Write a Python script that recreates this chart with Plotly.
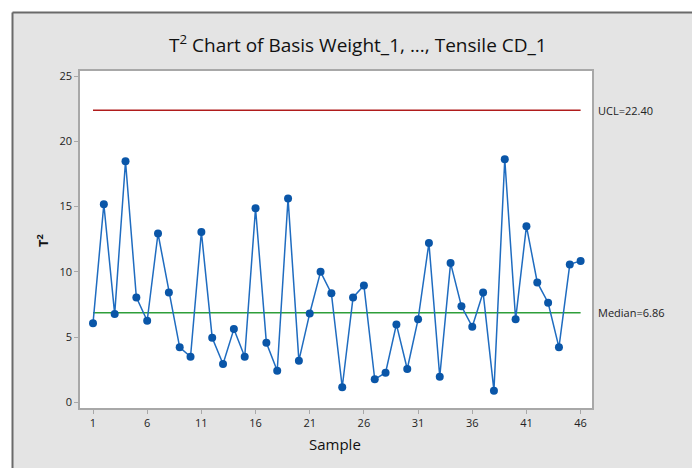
import plotly.graph_objects as go

samples = list(range(1, 47))
t2_values = [6.05, 15.18, 6.76, 18.48, 8.04, 6.25, 12.94, 8.42, 4.21, 3.49,
             13.06, 4.95, 2.93, 5.61, 3.49, 14.88, 4.56, 2.42, 15.62, 3.19,
             6.81, 10.0, 8.35, 1.15, 8.04, 8.96, 1.76, 2.27, 5.97, 2.55,
             6.36, 12.22, 1.96, 10.67, 7.37, 5.79, 8.42, 0.89, 18.63, 6.36,
             13.5, 9.19, 7.63, 4.21, 10.57, 10.84]
ucl = 22.40
median = 6.86
x_ticks = [1, 6, 11, 16, 21, 26, 31, 36, 41, 46]
y_ticks = [0, 5, 10, 15, 20, 25]

FONT = "Open Sans"
OFF = 8  # page body margin
W, H = 700 - OFF, 468 - OFF
# plot area in screen coordinates
SL, SR, ST, SB = 80, 592, 71, 408
L, T = SL - OFF, ST - OFF
R, B = W - (SR - OFF), H - (SB - OFF)
pw, ph = W - L - R, H - T - B

def px(xs):
    return (xs - SL) / pw

def py(ys):
    return (SB - ys) / ph

fig = go.Figure()
fig.add_trace(go.Scatter(x=[samples[0], samples[-1]], y=[ucl, ucl], mode="lines",
                         line=dict(color="#b01c1c", width=1.5), hoverinfo="skip", showlegend=False))
fig.add_trace(go.Scatter(x=[samples[0], samples[-1]], y=[median, median], mode="lines",
                         line=dict(color="#2e9e3a", width=1.5), hoverinfo="skip", showlegend=False))
fig.add_trace(go.Scatter(x=samples, y=t2_values, mode="lines+markers",
                         line=dict(color="#1f6cc0", width=1.5),
                         marker=dict(color="#0a56a8", size=8, symbol="circle"),
                         showlegend=False))

fig.add_annotation(x=px(596), xref="paper", y=ucl, yref="y", text="UCL=22.40",
                   showarrow=False, xanchor="left", yanchor="middle",
                   font=dict(family=FONT, size=11, color="#222222"))
fig.add_annotation(x=px(596), xref="paper", y=median, yref="y", text="Median=6.86",
                   showarrow=False, xanchor="left", yanchor="middle",
                   font=dict(family=FONT, size=11, color="#222222"))

# title
fig.add_annotation(x=px(358), xref="paper", y=py(44), yref="paper",
                   text="T<sup>2</sup> Chart of Basis Weight_1, ..., Tensile CD_1",
                   showarrow=False, xanchor="center", yanchor="middle",
                   font=dict(family=FONT, size=19, color="#111111"))
# y title
fig.add_annotation(x=px(42), xref="paper", y=py(241), yref="paper",
                   text="<b>T<sup>2</sup></b>", textangle=-90,
                   showarrow=False, xanchor="center", yanchor="middle",
                   font=dict(family=FONT, size=13, color="#111111"))
# x title
fig.add_annotation(x=px(335), xref="paper", y=py(444), yref="paper",
                   text="Sample", showarrow=False, xanchor="center", yanchor="middle",
                   font=dict(family=FONT, size=15, color="#111111"))

# white strips and outer frame (screen coords)
shapes = [
    dict(type="rect", xref="paper", yref="paper", x0=px(-5), x1=px(12), y0=py(480), y1=py(-5),
         fillcolor="white", line=dict(width=0)),
    dict(type="rect", xref="paper", yref="paper", x0=px(-5), x1=px(710), y0=py(12), y1=py(-5),
         fillcolor="white", line=dict(width=0)),
    dict(type="line", xref="paper", yref="paper", x0=px(12.5), x1=px(12.5), y0=py(12.5), y1=py(480),
         line=dict(color="#6a6a6a", width=2)),
    dict(type="line", xref="paper", yref="paper", x0=px(12.5), x1=px(710), y0=py(12.5), y1=py(12.5),
         line=dict(color="#6a6a6a", width=2)),
]

fig.update_layout(
    width=W, height=H,
    margin=dict(l=L, r=R, t=T, b=B),
    paper_bgcolor="#e4e4e4",
    plot_bgcolor="white",
    shapes=shapes,
    showlegend=False,
    xaxis=dict(range=[-0.2, 47.05], tickvals=x_ticks, ticktext=[str(v) for v in x_ticks],
               showgrid=False, zeroline=False, showline=True, linecolor="#a8a8a8", linewidth=1.5,
               mirror=True, ticks="outside", ticklen=4, tickcolor="#a8a8a8",
               tickfont=dict(family=FONT, size=11, color="#222222")),
    yaxis=dict(range=[-0.44, 25.4], tickvals=y_ticks,
               showgrid=False, zeroline=False, showline=True, linecolor="#a8a8a8", linewidth=1.5,
               mirror=True, ticks="outside", ticklen=4, tickcolor="#a8a8a8",
               tickfont=dict(family=FONT, size=11, color="#222222")),
)

fig.write_html("out.html")
